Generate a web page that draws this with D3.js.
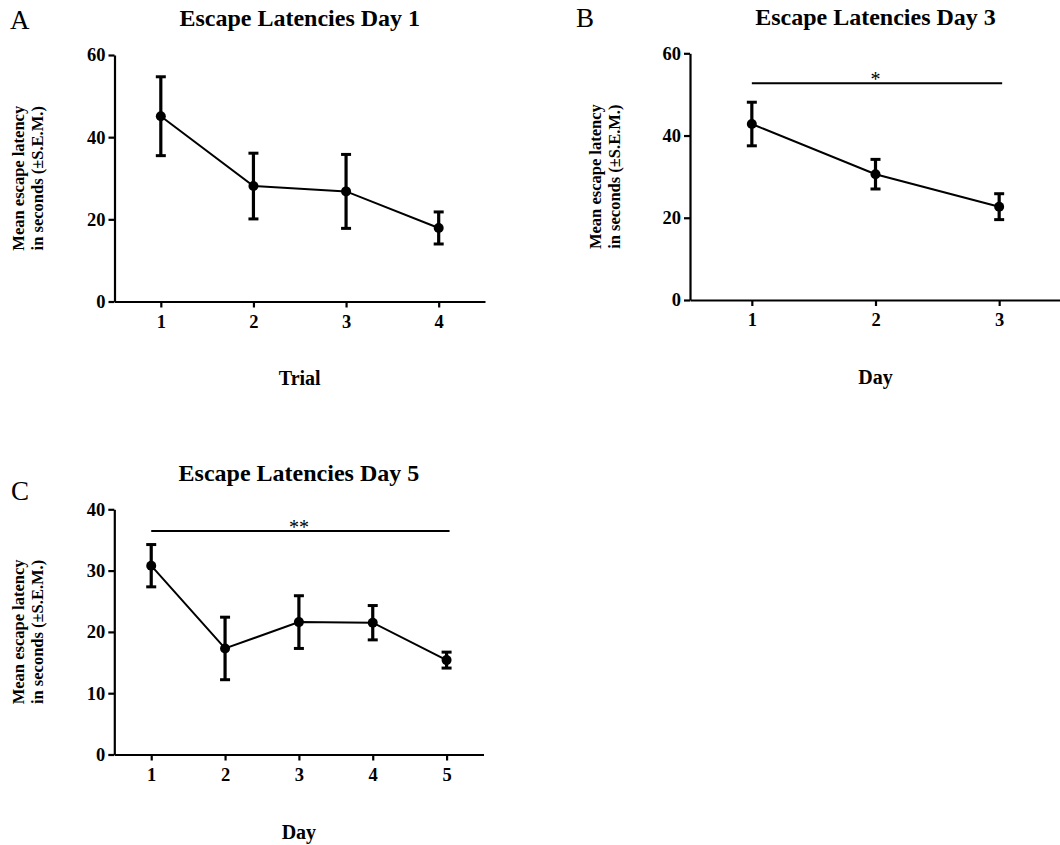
<!DOCTYPE html>
<html><head><meta charset="utf-8">
<script src="https://cdn.jsdelivr.net/npm/d3@7"></script>
<style>
html,body{margin:0;padding:0;background:#fff;}
svg{display:block;}
text{font-family:"Liberation Serif","Times New Roman",serif;fill:#000;}
</style></head>
<body>
<svg id="chart" width="1060" height="845"></svg>
<script>
// ---- data ----
const xA = [1, 2, 3, 4];
const meanA = [45.1, 28.1, 26.8, 17.9];
const semA = [9.6, 8.0, 9.0, 3.9];
const yTicksA = [0, 20, 40, 60];

const xB = [1, 2, 3];
const meanB = [42.8, 30.6, 22.7];
const semB = [5.3, 3.6, 3.15];
const yTicksB = [0, 20, 40, 60];

const xC = [1, 2, 3, 4, 5];
const meanC = [30.8, 17.3, 21.6, 21.5, 15.4];
const semC = [3.45, 5.1, 4.3, 2.8, 1.3];
const yTicksC = [0, 10, 20, 30, 40];

const titles = ["Escape Latencies Day 1", "Escape Latencies Day 3", "Escape Latencies Day 5"];
const panelLetters = ["A", "B", "C"];
const xTitles = ["Trial", "Day", "Day"];
const yTitleLines = ["Mean escape latency", "in seconds (\u00B1S.E.M.)"];
const sigLabels = [null, "*", "**"];

// ---- layout ----
const svg = d3.select("#chart");
const panels = [
  {xs: xA, m: meanA, s: semA, yt: yTicksA, ymax: 60, xr: [114.5, 485], yr: [301.5, 55],
   title: titles[0], titleY: 26, letter: panelLetters[0], lx: 10, ly: 29,
   xt: xTitles[0], xtY: 385, ylX: [24, 43], sig: sigLabels[0]},
  {xs: xB, m: meanB, s: semB, yt: yTicksB, ymax: 60, xr: [690, 1061], yr: [300, 53.3],
   title: titles[1], titleY: 25, letter: panelLetters[1], lx: 576, ly: 27,
   xt: xTitles[1], xtY: 384, ylX: [601, 620], sig: sigLabels[1], sigY: 83.3},
  {xs: xC, m: meanC, s: semC, yt: yTicksC, ymax: 40, xr: [114.3, 483.5], yr: [754.5, 509.3],
   title: titles[2], titleY: 481, letter: panelLetters[2], lx: 11, ly: 500,
   xt: xTitles[2], xtY: 839, ylX: [24, 43], sig: sigLabels[2], sigY: 531}
];

panels.forEach(p => {
  const n = p.xs.length;
  const x = d3.scaleLinear().domain([0.5, n + 0.5]).range(p.xr);
  const y = d3.scaleLinear().domain([0, p.ymax]).range(p.yr);
  const g = svg.append("g");

  // axes
  const xAxis = d3.axisBottom(x).tickValues(p.xs).tickFormat(d3.format("d"))
    .tickSize(6).tickSizeOuter(0).tickPadding(7);
  const gx = g.append("g").attr("transform", `translate(0,${p.yr[0]})`).call(xAxis);
  const yAxis = d3.axisLeft(y).tickValues(p.yt).tickFormat(d3.format("d"))
    .tickSize(6).tickSizeOuter(0).tickPadding(3);
  const gy = g.append("g").attr("transform", `translate(${p.xr[0]},0)`).call(yAxis);
  [gx, gy].forEach(a => {
    a.select(".domain").attr("stroke", "#000").attr("stroke-width", 2.2);
    a.selectAll(".tick line").attr("stroke", "#000").attr("stroke-width", 2.2);
    a.selectAll(".tick text").style("font-size", "18.5px").style("font-weight", "bold").attr("fill", "#000");
  });

  // connecting line
  const pts = p.xs.map((d, i) => [x(d), y(p.m[i])]);
  g.append("path").attr("d", d3.line()(pts)).attr("fill", "none")
    .attr("stroke", "#000").attr("stroke-width", 2);

  // error bars
  const eb = g.selectAll(".eb").data(p.xs.map((d, i) => ({x: d, m: p.m[i], s: p.s[i]})))
    .enter().append("g");
  eb.append("line").attr("x1", d => x(d.x)).attr("x2", d => x(d.x))
    .attr("y1", d => y(d.m + d.s)).attr("y2", d => y(d.m - d.s))
    .attr("stroke", "#000").attr("stroke-width", 3.2);
  [1, -1].forEach(sg => {
    eb.append("line").attr("x1", d => x(d.x) - 5).attr("x2", d => x(d.x) + 5)
      .attr("y1", d => y(d.m + sg * d.s)).attr("y2", d => y(d.m + sg * d.s))
      .attr("stroke", "#000").attr("stroke-width", 3);
  });
  eb.append("circle").attr("cx", d => x(d.x)).attr("cy", d => y(d.m)).attr("r", 5).attr("fill", "#000");

  // significance bar
  if (p.sig) {
    g.append("line").attr("x1", x(p.xs[0])).attr("x2", x(p.xs[n - 1]) + 3)
      .attr("y1", p.sigY).attr("y2", p.sigY).attr("stroke", "#000").attr("stroke-width", 2);
    g.append("text").attr("x", (x(p.xs[0]) + x(p.xs[n - 1])) / 2).attr("y", p.sigY + 3)
      .attr("text-anchor", "middle").style("font-size", "20px").text(p.sig);
  }

  const cx = (p.xr[0] + p.xr[1]) / 2;
  // title
  g.append("text").attr("x", cx).attr("y", p.titleY).attr("text-anchor", "middle")
    .style("font-size", "24px").style("font-weight", "bold").text(p.title);
  // panel letter
  g.append("text").attr("x", p.lx).attr("y", p.ly).style("font-size", "27px").text(p.letter);
  // x title
  g.append("text").attr("x", cx).attr("y", p.xtY).attr("text-anchor", "middle")
    .style("font-size", "20px").style("font-weight", "bold").text(p.xt);
  // y title
  const cy = (p.yr[0] + p.yr[1]) / 2;
  yTitleLines.forEach((t, i) => {
    g.append("text").attr("transform", `translate(${p.ylX[i]},${cy}) rotate(-90)`)
      .attr("text-anchor", "middle").style("font-size", "16.5px").style("font-weight", "bold").text(t);
  });
});
</script>
</body></html>
